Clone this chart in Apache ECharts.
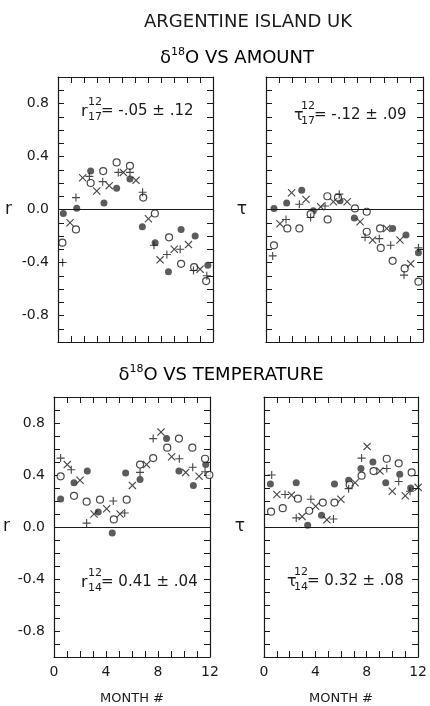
<!DOCTYPE html>
<html>
<head>
<meta charset="utf-8">
<script src="https://cdn.jsdelivr.net/npm/echarts@6/dist/echarts.min.js"></script>
<style>
  html, body { margin: 0; padding: 0; background: #fff; }
  #page { position: relative; width: 430px; height: 706px; }
  .layer { position: absolute; left: 0; top: 0; width: 430px; height: 706px; }
</style>
</head>
<body>
<div id="page">
  <div id="texts" class="layer"></div>
  <div id="p0" class="layer"></div>
  <div id="p1" class="layer"></div>
  <div id="p2" class="layer"></div>
  <div id="p3" class="layer"></div>
</div>
<script>
// month ticks and y range
const months = [0, 4, 8, 12]
const yTickLabels = [-0.8, -0.4, 0.0, 0.4, 0.8]

// d18O vs amount, r (top left) : [month, r]
const amountRFilled = [[0.41, -0.03], [1.45, 0.01], [2.53, 0.29], [3.56, 0.05], [4.54, 0.16], [5.57, 0.23], [6.53, -0.13], [7.52, -0.25], [8.55, -0.47], [9.53, -0.15], [10.62, -0.20], [11.6, -0.42]]
const amountROpen = [[0.34, -0.25], [1.39, -0.15], [2.53, 0.20], [3.5, 0.29], [4.54, 0.355], [5.57, 0.33], [6.6, 0.09], [7.5, -0.03], [8.6, -0.21], [9.53, -0.41], [10.54, -0.435], [11.47, -0.54]]
const amountRCross = [[0.93, -0.10], [1.91, 0.24], [3.0, 0.14], [3.97, 0.18], [5.06, 0.28], [6.04, 0.22], [7.0, -0.07], [7.9, -0.38], [9.0, -0.30], [10.1, -0.265], [11.0, -0.45], [12.04, -0.27]]
const amountRPlus = [[0.36, -0.40], [1.39, 0.09], [2.43, 0.25], [3.46, 0.21], [4.67, 0.28], [5.57, 0.28], [6.55, 0.13], [7.43, -0.27], [8.43, -0.34], [9.46, -0.30], [10.49, -0.46], [11.52, -0.50]]

// d18O vs amount, tau (top right)
const amountTFilled = [[0.61, 0.008], [1.58, 0.05], [2.73, 0.146], [3.62, -0.01], [5.66, 0.066], [6.75, -0.065], [9.68, -0.143], [10.7, -0.193], [11.65, -0.327]]
const amountTOpen = [[0.61, -0.27], [1.63, -0.143], [2.55, -0.143], [3.41, -0.035], [4.69, 0.10], [4.71, -0.075], [5.5, 0.09], [6.8, 0.008], [7.7, -0.017], [7.7, -0.168], [8.72, -0.143], [8.77, -0.29], [9.68, -0.387], [10.6, -0.445], [11.65, -0.545]]
const amountTCross = [[1.07, -0.108], [1.96, 0.126], [3.06, 0.075], [4.18, 0.02], [5.15, 0.058], [6.2, 0.058], [7.19, -0.093], [8.15, -0.23], [9.23, -0.143], [10.24, -0.23], [11.06, -0.41], [12.08, -0.255]]
const amountTPlus = [[0.51, -0.35], [1.53, -0.075], [2.55, 0.04], [3.41, -0.06], [4.51, 0.026], [5.6, 0.116], [7.57, -0.21], [8.66, -0.22], [9.53, -0.27], [10.55, -0.495], [11.65, -0.29]]

// d18O vs temperature, r (bottom left)
const tempRFilled = [[0.51, 0.215], [1.54, 0.34], [2.56, 0.43], [3.4, 0.115], [4.48, -0.047], [5.51, 0.415], [6.62, 0.365], [8.66, 0.68], [9.61, 0.43], [10.72, 0.32], [11.67, 0.48]]
const tempROpen = [[0.51, 0.39], [1.54, 0.24], [2.51, 0.195], [3.54, 0.21], [4.6, 0.058], [5.59, 0.21], [6.62, 0.48], [7.63, 0.53], [8.71, 0.61], [9.61, 0.68], [10.64, 0.61], [11.62, 0.525], [11.95, 0.40]]
const tempRCross = [[1.02, 0.48], [2.0, 0.36], [3.08, 0.10], [4.05, 0.14], [5.08, 0.10], [6.03, 0.32], [7.12, 0.48], [8.23, 0.73], [9.05, 0.54], [10.13, 0.42], [11.16, 0.39], [12.19, 0.40]]
const tempRPlus = [[0.51, 0.53], [1.33, 0.44], [2.51, 0.03], [4.56, 0.20], [5.44, 0.108], [6.62, 0.42], [7.63, 0.68], [9.64, 0.525], [10.67, 0.46], [11.62, 0.425]]

// d18O vs temperature, tau (bottom right)
const tempTFilled = [[0.5, 0.33], [2.51, 0.34], [3.4, 0.013], [4.48, 0.09], [5.49, 0.33], [6.59, 0.36], [7.55, 0.45], [8.48, 0.50], [9.48, 0.34], [10.57, 0.405], [11.42, 0.30]]
const tempTOpen = [[0.55, 0.118], [1.46, 0.145], [2.64, 0.218], [3.52, 0.125], [4.58, 0.188], [5.49, 0.188], [6.67, 0.325], [7.6, 0.395], [8.53, 0.43], [9.56, 0.525], [10.49, 0.49], [11.5, 0.42]]
const tempTCross = [[1.0, 0.25], [2.14, 0.245], [2.97, 0.08], [4.02, 0.16], [4.9, 0.055], [5.99, 0.213], [7.09, 0.34], [8.03, 0.62], [9.03, 0.43], [9.99, 0.275], [11.0, 0.24], [12.0, 0.305]]
const tempTPlus = [[0.6, 0.40], [1.64, 0.25], [2.51, 0.07], [3.65, 0.213], [5.41, 0.062], [6.59, 0.295], [7.6, 0.53], [9.56, 0.45], [10.49, 0.35], [11.37, 0.275]]

const panels = [
  { grid: { left: 58, top: 77, width: 155, height: 265 }, name: 'r', gap: 46, ylab: true, xlab: false,
    data: [amountRFilled, amountROpen, amountRCross, amountRPlus] },
  { grid: { left: 266, top: 77, width: 157, height: 265 }, name: 'τ', gap: 19, ylab: false, xlab: false,
    data: [amountTFilled, amountTOpen, amountTCross, amountTPlus] },
  { grid: { left: 54, top: 397, width: 156, height: 264 }, name: 'r', gap: 44, ylab: true, xlab: true,
    data: [tempRFilled, tempROpen, tempRCross, tempRPlus] },
  { grid: { left: 264, top: 397, width: 159, height: 265 }, name: 'τ', gap: 19, ylab: false, xlab: true,
    data: [tempTFilled, tempTOpen, tempTCross, tempTPlus] }
]

const ink = '#1a1a1a'
const font = 'DejaVu Sans'

const mkLine = () => ({ show: true, onZero: false, lineStyle: { color: ink, width: 1.2 } })
const mkTick = () => ({ show: true, inside: true, length: 6, lineStyle: { color: ink, width: 1 } })

// filled dot, open circle, x, + ; the x and + are thin filled outlines
const mkSymbol = [
  () => ({ symbol: 'circle', symbolSize: 7, itemStyle: { color: '#333' } }),
  () => ({ symbol: 'circle', symbolSize: 7, itemStyle: { color: '#fff', borderColor: ink, borderWidth: 1.2 } }),
  () => ({ symbol: 'path://M0,1L1,0L5,4L9,0L10,1L6,5L10,9L9,10L5,6L1,10L0,9L4,5Z', symbolSize: 8, itemStyle: { color: ink } }),
  () => ({ symbol: 'path://M4.3,0L5.7,0L5.7,4.3L10,4.3L10,5.7L5.7,5.7L5.7,10L4.3,10L4.3,5.7L0,5.7L0,4.3L4.3,4.3Z', symbolSize: 8, itemStyle: { color: ink } })
]

// one chart per panel, each with a single grid and a single scatter series
function panelOption(p) {
  const points = []
  p.data.forEach((d, k) => {
    d.forEach(v => points.push(Object.assign({ value: v }, mkSymbol[k]())))
  })
  return {
    animation: false,
    grid: [p.grid],
    xAxis: [{
      type: 'value', gridIndex: 0, position: 'bottom', min: 0, max: 12, interval: 1,
      axisLine: mkLine(), axisTick: mkTick(), splitLine: { show: false },
      axisLabel: { show: p.xlab, customValues: months, margin: 8, color: ink, fontFamily: font, fontSize: 14 },
      name: p.xlab ? 'MONTH #' : '', nameLocation: 'middle', nameGap: 35,
      nameTextStyle: { color: ink, fontFamily: font, fontSize: 13 }
    }, {
      type: 'value', gridIndex: 0, position: 'top', min: 0, max: 12, interval: 1,
      axisLine: mkLine(), axisTick: mkTick(), axisLabel: { show: false }, splitLine: { show: false }
    }],
    yAxis: [{
      type: 'value', gridIndex: 0, position: 'left', min: -1, max: 1, interval: 0.1,
      axisLine: mkLine(), axisTick: mkTick(), splitLine: { show: false },
      axisLabel: {
        show: p.ylab, customValues: yTickLabels, margin: 9, color: ink, fontFamily: font, fontSize: 14,
        formatter: v => (Math.round(v * 10) / 10).toFixed(1)
      },
      name: p.name, nameLocation: 'middle', nameGap: p.gap, nameRotate: 0,
      nameTextStyle: { color: ink, fontFamily: font, fontSize: 17 }
    }, {
      type: 'value', gridIndex: 0, position: 'right', min: -1, max: 1, interval: 0.1,
      axisLine: mkLine(), axisTick: mkTick(), axisLabel: { show: false }, splitLine: { show: false }
    }],
    series: [{
      type: 'scatter', xAxisIndex: 0, yAxisIndex: 0, data: points,
      // zero line
      markLine: {
        silent: true, symbol: 'none', label: { show: false },
        lineStyle: { color: ink, width: 1, type: 'solid' },
        data: [{ yAxis: 0 }]
      }
    }]
  }
}

// titles and the r / tau boxes
function txt(x, y, text, size, align) {
  return {
    type: 'text', x: x, y: y,
    style: { text: text, fill: ink, font: size + 'px "' + font + '"', textAlign: align || 'left', textVerticalAlign: 'middle' }
  }
}

function heading(cx, cy, rest) {
  return {
    type: 'text', x: cx, y: cy,
    style: {
      text: '{a|δ}{s|18}{a|' + rest + '}',
      textAlign: 'center', textVerticalAlign: 'middle',
      rich: {
        a: { fontSize: 18, fontFamily: font, color: ink, lineHeight: 22 },
        s: { fontSize: 11, fontFamily: font, color: ink, lineHeight: 11, verticalAlign: 'top' }
      }
    }
  }
}

function coef(x, y, sym, lo, rest) {
  return [
    txt(x, y + 1, sym, 16),
    txt(x + 7, y - 9, '12', 11),
    txt(x + 7, y + 6, lo, 11),
    txt(x + 20, y, rest, 15)
  ]
}

const graphics = [
  txt(248, 22, 'ARGENTINE ISLAND UK', 18, 'center'),
  heading(237, 58, 'O VS AMOUNT'),
  heading(221, 375, 'O VS TEMPERATURE')
].concat(
  coef(81, 111, 'r', '17', '= -.05 ± .12'),
  coef(294, 115, 'τ', '17', '= -.12 ± .09'),
  coef(81, 582, 'r', '14', '= 0.41 ± .04'),
  coef(287, 581, 'τ', '14', '= 0.32 ± .08')
)

echarts.init(document.getElementById('texts')).setOption({
  backgroundColor: '#fff',
  animation: false,
  graphic: graphics
})

panels.forEach((p, i) => {
  echarts.init(document.getElementById('p' + i)).setOption(panelOption(p))
})
</script>
</body>
</html>
